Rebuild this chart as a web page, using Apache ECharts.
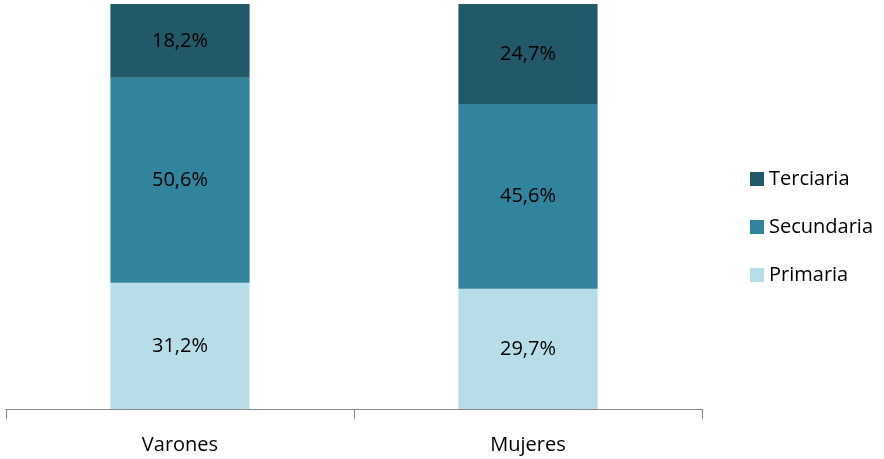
<!DOCTYPE html>
<html lang="es" style="height: 100%">
<head>
  <meta charset="utf-8">
</head>
<body style="height: 100%; margin: 0; background: #fff">
  <div id="container" style="width: 884px; height: 459px"></div>
  <script src="https://cdn.jsdelivr.net/npm/echarts@6/dist/echarts.min.js"></script>
  <script>
    const categorias = ['Varones', 'Mujeres'];
    const primaria = [31.2, 29.7];
    const secundaria = [50.6, 45.6];
    const terciaria = [18.2, 24.7];

    const fuente = 'Open Sans';
    function serie(nombre, datos, color) {
      return {
        name: nombre,
        type: 'bar',
        stack: 'total',
        barWidth: '40%',
        data: datos,
        itemStyle: { color: color },
        label: {
          show: true,
          position: 'inside',
          color: '#000',
          fontFamily: fuente,
          fontSize: 20,
          formatter: p => p.value.toFixed(1).replace('.', ',') + '%'
        }
      };
    }

    var myChart = echarts.init(document.getElementById('container'));
    var option = {
      animation: false,
      grid: { left: 6, right: 182, top: 4, bottom: 50 },
      legend: {
        orient: 'vertical',
        left: 745,
        top: 164,
        itemWidth: 14,
        itemHeight: 14,
        itemGap: 28,
        icon: 'rect',
        data: ['Terciaria', 'Secundaria', 'Primaria'],
        textStyle: { fontFamily: fuente, fontSize: 20, color: '#000' }
      },
      xAxis: {
        type: 'category',
        data: categorias,
        axisLine: { lineStyle: { color: '#888' } },
        axisTick: { show: true, interval: 0, length: 10, lineStyle: { color: '#888' } },
        axisLabel: { fontFamily: fuente, fontSize: 20, color: '#000', margin: 26 }
      },
      yAxis: { type: 'value', min: 0, max: 100, show: false },
      series: [
        serie('Primaria', primaria, '#B7DEE8'),
        serie('Secundaria', secundaria, '#31849B'),
        serie('Terciaria', terciaria, '#215968')
      ]
    };
    myChart.setOption(option);
  </script>
</body>
</html>
